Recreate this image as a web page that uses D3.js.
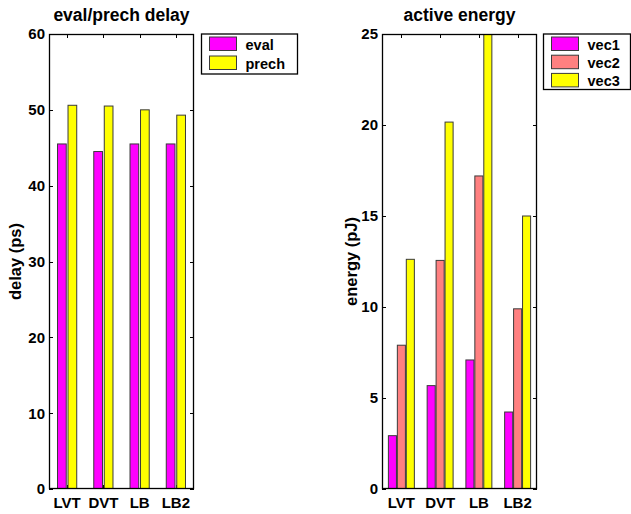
<!DOCTYPE html>
<html>
<head>
<meta charset="utf-8">
<script src="https://cdn.jsdelivr.net/npm/d3@7"></script>
<style>
  html, body { margin: 0; padding: 0; background: #fff; }
  svg { display: block; }
  text { font-family: "Liberation Sans", Arial, Helvetica, sans-serif; font-weight: bold; fill: #000; }
</style>
</head>
<body>
<svg id="chart" width="631" height="514"></svg>
<script>
// ---- data ----
const categories = ["LVT", "DVT", "LB", "LB2"];

const delaySeries = ["eval", "prech"];
const evalDelay = [45.5, 44.5, 45.5, 45.5];
const prechDelay = [50.6, 50.5, 50.0, 49.3];
const delayTicks = [0, 10, 20, 30, 40, 50, 60];

const energySeries = ["vec1", "vec2", "vec3"];
const vec1Energy = [2.93, 5.68, 7.09, 4.23];
const vec2Energy = [7.9, 12.56, 17.2, 9.9];
const vec3Energy = [12.62, 20.16, 26.0, 15.0];
const energyTicks = [0, 5, 10, 15, 20, 25];

const colors = { eval: "#ff00ff", prech: "#ffff00", vec1: "#ff00ff", vec2: "#ff8080", vec3: "#ffff00" };

const svg = d3.select("#chart");

function drawPanel(opts) {
  const { left, right, top, bottom, yMax, ticks, series, values, title, ylabel,
          ylabelX, inner, legend, id } = opts;
  const g = svg.append("g");
  const x = d3.scaleBand().domain(categories).range([left, right]).padding(0);
  const y = d3.scaleLinear().domain([0, yMax]).range([bottom, top]);
  const groupW = x.bandwidth() * inner.groupFrac;
  const x1 = d3.scaleBand().domain(series).range([-groupW / 2, groupW / 2]).paddingInner(inner.pad);

  // clip
  svg.append("clipPath").attr("id", id).append("rect")
    .attr("x", left).attr("y", top).attr("width", right - left).attr("height", bottom - top);

  // ticks inside (y left / right, x top / bottom)
  const tl = 4;
  ticks.forEach(t => {
    const yy = Math.round(y(t)) + 0.5;
    g.append("line").attr("x1", left).attr("x2", left + tl).attr("y1", yy).attr("y2", yy).attr("stroke", "#000");
    g.append("line").attr("x1", right - tl).attr("x2", right).attr("y1", yy).attr("y2", yy).attr("stroke", "#000");
    g.append("text").attr("x", left - 4).attr("y", y(t)).attr("dy", "0.36em")
      .attr("text-anchor", "end").style("font-size", "15px").text(t);
  });
  categories.forEach(c => {
    const xx = Math.round(x(c) + x.bandwidth() / 2) + 0.5;
    g.append("line").attr("x1", xx).attr("x2", xx).attr("y1", top).attr("y2", top + tl).attr("stroke", "#000");
    g.append("line").attr("x1", xx).attr("x2", xx).attr("y1", bottom - tl).attr("y2", bottom).attr("stroke", "#000");
    g.append("text").attr("x", x(c) + x.bandwidth() / 2).attr("y", bottom + 19)
      .attr("text-anchor", "middle").style("font-size", "15px").text(c);
  });

  // bars
  const bars = g.append("g").attr("clip-path", `url(#${id})`);
  series.forEach((s, si) => {
    categories.forEach((c, ci) => {
      const cx = x(c) + x.bandwidth() / 2;
      const v = values[si][ci];
      bars.append("rect")
        .attr("x", cx + x1(s)).attr("width", x1.bandwidth())
        .attr("y", y(v)).attr("height", y(0) - y(v))
        .attr("fill", colors[s]).attr("stroke", "#3a3a3a").attr("stroke-width", 1);
    });
  });

  // box
  g.append("rect").attr("x", left + 0.5).attr("y", top + 0.5)
    .attr("width", right - left - 1).attr("height", bottom - top - 1)
    .attr("fill", "none").attr("stroke", "#000").attr("stroke-width", 1.3);

  // title
  g.append("text").attr("x", (left + right) / 2).attr("y", 21)
    .attr("text-anchor", "middle").style("font-size", "17.5px").text(title);
  // ylabel
  g.append("text").attr("transform", `translate(${ylabelX},${(top + bottom) / 2}) rotate(-90)`)
    .attr("text-anchor", "middle").attr("dy", "0.35em").style("font-size", "16.5px").text(ylabel);

  // legend
  const L = legend;
  g.append("rect").attr("x", L.x + 0.5).attr("y", L.y + 0.5).attr("width", L.w).attr("height", L.h)
    .attr("fill", "#fff").attr("stroke", "#000").attr("stroke-width", 1.3);
  series.forEach((s, i) => {
    const sy = L.y + 3.5 + i * L.step;
    g.append("rect").attr("x", L.x + 8.5).attr("y", sy).attr("width", 27).attr("height", 13.5)
      .attr("fill", colors[s]).attr("stroke", "#3a3a3a").attr("stroke-width", 1);
    g.append("text").attr("x", L.x + 44.5).attr("y", sy + 12.5)
      .style("font-size", "14.5px").text(s);
  });
}

drawPanel({
  id: "clipL", left: 49, right: 194, top: 34, bottom: 489, yMax: 60, ticks: delayTicks,
  series: delaySeries, values: [evalDelay, prechDelay],
  title: "eval/prech delay", ylabel: "delay (ps)", ylabelX: 15.5,
  inner: { groupFrac: 0.53, pad: 0.17 },
  legend: { x: 201, y: 33.5, w: 96, h: 40, step: 19 }
});

drawPanel({
  id: "clipR", left: 382, right: 537, top: 34, bottom: 489, yMax: 25, ticks: energyTicks,
  series: energySeries, values: [vec1Energy, vec2Energy, vec3Energy],
  title: "active energy", ylabel: "energy (pJ)", ylabelX: 351,
  inner: { groupFrac: 0.67, pad: 0.1 },
  legend: { x: 543, y: 33.5, w: 87, h: 55.5, step: 18.2 }
});
</script>
</body>
</html>
